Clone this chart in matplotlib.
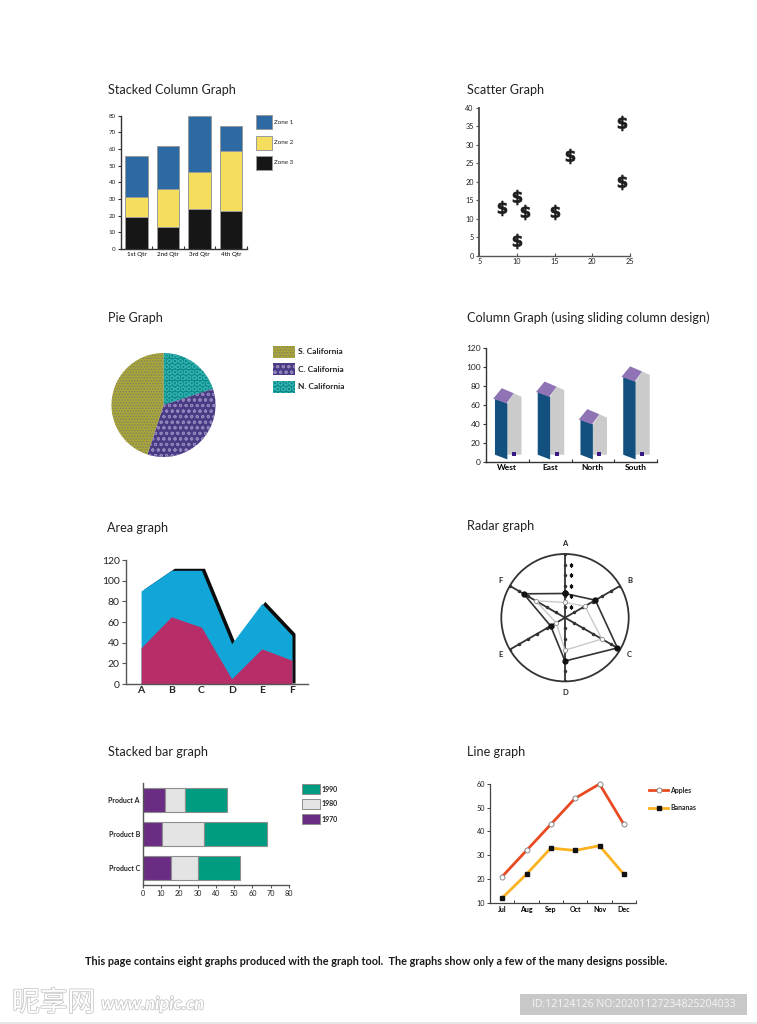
import numpy as np
import matplotlib
matplotlib.use("Agg")
import matplotlib.pyplot as plt
import matplotlib.patheffects as pe
from matplotlib.patches import Polygon, Rectangle
from matplotlib.transforms import ScaledTranslation

W, H = 757, 1024
plt.rcParams['font.family'] = ['Lato', 'DejaVu Sans']
plt.rcParams['hatch.linewidth'] = 0.7

# Stacked column
col_quarters = ['1st Qtr', '2nd Qtr', '3rd Qtr', '4th Qtr']
zone3 = [19, 13, 24, 23]
zone2 = [12, 23, 22, 36]
zone1 = [25, 26, 34, 15]
col_zone_labels = ['Zone 1', 'Zone 2', 'Zone 3']

# Scatter
scatter_x = [8, 10, 11, 10, 15, 17, 24, 24]
scatter_y = [13, 16, 12, 4, 12, 27, 36, 20]

# Pie
pie_labels = ['S. California', 'C. California', 'N. California']
pie_values = [45, 35, 20]

# Sliding column
slide_regions = ['West', 'East', 'North', 'South']
slide_values = [67, 74, 45, 90]

# Area
area_cats = ['A', 'B', 'C', 'D', 'E', 'F']
area_low = [35, 65, 55, 5, 34, 23]
area_top = [90, 110, 110, 39, 78, 47]

# Radar
radar_cats = ['A', 'B', 'C', 'D', 'E', 'F']
radar_dark = [38, 55, 95, 68, 26, 75]
radar_light = [24, 36, 67, 51, 16, 53]

# Stacked bar
bar_products = ['Product A', 'Product B', 'Product C']
bar_1970 = [12, 10.7, 15.5]
bar_1980 = [11, 23, 14.5]
bar_1990 = [23, 34, 23]
bar_years = ['1990', '1980', '1970']

# Line
line_months = ['Jul', 'Aug', 'Sep', 'Oct', 'Nov', 'Dec']
apples = [21, 32, 43, 54, 60, 43]
bananas = [12, 22, 33, 32, 34, 22]

titles = [
    (108, 90, 'Stacked Column Graph'), (467, 90, 'Scatter Graph'),
    (108, 317.5, 'Pie Graph'), (467, 317.5, 'Column Graph (using sliding column design)'),
    (107, 527.5, 'Area graph'), (467, 525.5, 'Radar graph'),
    (108, 751.5, 'Stacked bar graph'), (467, 751.5, 'Line graph'),
]
caption = 'This page contains eight graphs produced with the graph tool.  The graphs show only a few of the many designs possible.'

fig = plt.figure(figsize=(W / 100, H / 100), dpi=100, facecolor='white')


# axes from pixel box, measured from the top left of the page
def ax_px(left, top, right, bottom, **kw):
    ax = fig.add_axes([left / W, 1 - bottom / H, (right - left) / W, (bottom - top) / H], **kw)
    ax.patch.set_alpha(0)
    return ax


def page_text(x, y, s, **kw):
    kw.setdefault('va', 'center')
    kw.setdefault('color', '#222222')
    return fig.text(x / W, 1 - y / H, s, **kw)


def page_rect(left, top, right, bottom, **kw):
    fig.add_artist(Rectangle((left / W, 1 - bottom / H), (right - left) / W, (bottom - top) / H,
                             transform=fig.transFigure, **kw))


def style_axes(ax, lw=1.0, size=3, font=5, color='#333333'):
    ax.spines['top'].set_visible(False)
    ax.spines['right'].set_visible(False)
    ax.spines['left'].set_linewidth(lw)
    ax.spines['bottom'].set_linewidth(lw)
    ax.spines['left'].set_color(color)
    ax.spines['bottom'].set_color(color)
    ax.tick_params(length=size, width=lw * 0.8, labelsize=font, pad=1.5, color=color, labelcolor='#222222')
    ax.tick_params(axis='x', direction='in')


for x, y, s in titles:
    page_text(x, y, s, fontsize=9.1, color='#222222')

# Stacked column graph
ax = ax_px(120.7, 115.7, 246.7, 249)
pos = np.arange(4) + 0.5
edge = dict(edgecolor='#9a9a9a', linewidth=0.7, width=0.72)
ax.bar(pos, zone3, color='#161616', **edge)
ax.bar(pos, zone2, bottom=zone3, color='#f5dd5d', **edge)
ax.bar(pos, zone1, bottom=np.add(zone3, zone2), color='#2d6aa3', **edge)
ax.set_xlim(0, 4)
ax.set_ylim(0, 80)
ax.set_yticks(range(0, 81, 10))
ax.set_xticks(range(5))
ax.set_xticklabels([])
ax.set_xticks(pos, minor=True)
ax.set_xticklabels(col_quarters, minor=True, fontsize=4.5)
style_axes(ax, font=4.5, size=2)
ax.tick_params(axis='x', which='minor', length=0, pad=2.5)
for top, col, lab in zip([115, 136, 156], ['#2d6aa3', '#f5dd5d', '#161616'], col_zone_labels):
    page_rect(256, top, 272, top + 13.5, facecolor=col, edgecolor='#9a9a9a', linewidth=0.7)
    page_text(273.5, top + 7, lab, fontsize=4.5)

# Scatter graph
ax = ax_px(479.3, 107.7, 630, 256)
ax.scatter(scatter_x, scatter_y, marker=r'$\mathbf{\$}$', s=115, color='#1c1c1c', linewidths=0.5, clip_on=False)
ax.set_xlim(5, 25)
ax.set_ylim(0, 40)
ax.set_xticks(range(5, 26, 5))
ax.set_yticks(range(0, 41, 5))
style_axes(ax, font=5.2, size=2.5, color='#555555')
ax.spines['left'].set_linewidth(1.4)

# Pie graph, clockwise from the top: N, C, S
ax = ax_px(111.5, 353, 215.5, 457)
wedges, _ = ax.pie(pie_values[::-1], startangle=90, counterclock=False, radius=1.0,
                   wedgeprops=dict(linewidth=0))
ax.set_xlim(-1, 1)
ax.set_ylim(-1, 1)
pie_face = ['#aaa63a', '#4a3b85', '#0d8a80']
pie_hatch_col = ['#7f8062', '#9385bb', '#2fb0b4']
pie_hatch = ['......', 'ooo', 'OOO']
for w, f, c, h in zip(wedges[::-1], pie_face, pie_hatch_col, pie_hatch):
    w.set_facecolor(f)
    w.set_edgecolor(c)
    w.set_hatch(h)
for top, f, c, h, lab in zip([345.5, 363, 380.5], pie_face, pie_hatch_col, pie_hatch, pie_labels):
    page_rect(273, top, 295, top + 12, facecolor=f, edgecolor=c, hatch=h, linewidth=0)
    page_text(298, top + 6, lab, fontsize=6, fontweight='bold')

# Column graph with sliding columns
ax = ax_px(486, 348.3, 657, 462.3)
ax.set_xlim(0, 4)
ax.set_ylim(0, 120)
for i, v in enumerate(slide_values):
    ax.add_patch(Polygon([(i + .5, 8), (i + .83, 8), (i + .83, v + 2), (i + .65, v + 5.6), (i + .5, v - 5)],
                         facecolor='#cbcbcb', edgecolor='none'))
    ax.add_patch(Polygon([(i + .21, 8), (i + .5, 3), (i + .5, v - 5), (i + .21, v)],
                         facecolor='#11507f', edgecolor='none'))
    ax.add_patch(Polygon([(i + .17, v), (i + .48, v - 5), (i + .65, v + 5.6), (i + .37, v + 11)],
                         facecolor='#8f73b5', edgecolor='none'))
ax.scatter(np.arange(4) + .65, [9] * 4, s=5, marker='s', color='#3b1a86', linewidths=0)
ax.set_xticks(range(5))
ax.set_xticklabels([])
ax.set_xticks(np.arange(4) + .5, minor=True)
ax.set_xticklabels(slide_regions, minor=True, fontsize=6, fontweight='bold')
ax.set_yticks(range(0, 121, 20))
style_axes(ax, lw=1.0, font=6, size=2.5)
ax.tick_params(axis='x', which='minor', length=0, pad=1.5)

# Area graph
ax = ax_px(126, 560, 308, 684)
xs = np.arange(6)
ax.fill_between(xs + 0.1, np.add(area_top, 2), 1, color='#0c0c0c', linewidth=0)
ax.fill_between(xs, area_top, 0, color='#12a5d8', linewidth=0)
ax.fill_between(xs, area_low, 0, color='#b72d67', linewidth=0)
ax.set_xlim(-0.5, 5.53)
ax.set_ylim(0, 120)
ax.set_xticks(xs)
ax.set_xticklabels(area_cats, fontsize=7.5, fontweight='bold')
ax.set_yticks(range(0, 121, 20))
style_axes(ax, lw=1.0, font=7.5, size=3, color='#555555')
ax.tick_params(axis='x', length=0, pad=1.5)

# Radar graph
ax = ax_px(501.3, 554, 628.7, 681.4, polar=True)
ax.patch.set_alpha(0)
ax.set_theta_zero_location('N')
ax.set_theta_direction(-1)
angles = np.deg2rad(np.arange(6) * 60)
closed = np.append(angles, angles[0])
ax.set_ylim(0, 100)
ax.set_xticks(angles)
ax.set_xticklabels([])
ax.set_yticks([])
ax.grid(False)
ax.spines['polar'].set_linewidth(1.3)
ax.spines['polar'].set_color('#333333')
for a, lab in zip(angles, radar_cats):
    ax.text(a, 117, lab, fontsize=5.5, fontweight='bold', ha='center', va='center', color='#222222')
steps = np.arange(1, 7) * 100 / 6
for a in angles:
    ax.plot([a, a], [0, 100], color='#333333', lw=1.3, zorder=2)
    ax.plot([a] * 6, steps, ls='none', marker='o', ms=1.5, color='#333333', zorder=2)
ax.plot(closed, np.append(radar_light, radar_light[0]), color='#c9c9c9', lw=1.0, marker='o', ms=3,
        mfc='white', mec='#999999', mew=0.7, zorder=3)
ax.plot(closed, np.append(radar_dark, radar_dark[0]), color='#333333', lw=1.2, marker='o', ms=3.5,
        mfc='#111111', mec='#111111', zorder=4)
offset = ax.transData + ScaledTranslation(6 / 100, 0, fig.dpi_scale_trans)
ax.plot([0] * 5, steps[:5], ls='none', marker='s', ms=1.5, color='#111111', transform=offset, zorder=4)

# Stacked bar graph
ax = ax_px(142.7, 783, 289, 885)
ypos = np.arange(3)
edge = dict(edgecolor='#8e8e8e', linewidth=0.8, height=0.72)
ax.barh(ypos, bar_1970, color='#6b2d83', **edge)
ax.barh(ypos, bar_1980, left=bar_1970, color='#e4e4e4', **edge)
ax.barh(ypos, bar_1990, left=np.add(bar_1970, bar_1980), color='#009c82', **edge)
ax.set_xlim(0, 80)
ax.set_ylim(2.5, -0.5)
ax.set_xticks(range(0, 81, 10))
ax.set_yticks(ypos)
ax.set_yticklabels(bar_products, fontsize=5, fontweight='bold')
style_axes(ax, lw=1.0, font=5.2, size=2, color='#555555')
ax.set_yticklabels(bar_products, fontsize=5, fontweight='bold')
ax.tick_params(axis='y', length=0, pad=2)
ax.tick_params(axis='x', direction='out')
for top, col, lab in zip([784, 799, 814], ['#009c82', '#e4e4e4', '#6b2d83'], bar_years):
    page_rect(301.7, top, 320, top + 10.3, facecolor=col, edgecolor='#8e8e8e', linewidth=0.7)
    page_text(322, top + 5, lab, fontsize=5, fontweight='bold')

# Line graph
ax = ax_px(490, 784, 636, 902.7)
xs = np.arange(6) + 0.5
ax.plot(xs, bananas, color='#fbb221', lw=2, marker='s', ms=3.3, mfc='#111111', mec='#111111', clip_on=False)
ax.plot(xs, apples, color='#ea4a22', lw=2, marker='o', ms=3.6, mfc='white', mec='#888888', mew=0.7, clip_on=False)
ax.set_xlim(0, 6)
ax.set_ylim(10, 60)
ax.set_yticks(range(10, 61, 10))
ax.set_xticks(range(7))
ax.set_xticklabels([])
ax.set_xticks(xs, minor=True)
ax.set_xticklabels(line_months, minor=True, fontsize=5, fontweight='bold')
style_axes(ax, lw=0.9, font=5.2, size=2, color='#444444')
ax.tick_params(axis='x', which='minor', length=0, pad=2.5)
fig.add_artist(plt.Line2D([649 / W, 668 / W], [1 - 790 / H] * 2, color='#ea4a22', lw=2,
                          transform=fig.transFigure))
fig.add_artist(plt.Line2D([658.5 / W], [1 - 790 / H], ls='none', marker='o', ms=3.6, mfc='white',
                          mec='#888888', mew=0.7, transform=fig.transFigure))
fig.add_artist(plt.Line2D([649 / W, 668 / W], [1 - 808 / H] * 2, color='#fbb221', lw=2,
                          transform=fig.transFigure))
fig.add_artist(plt.Line2D([658.5 / W], [1 - 808 / H], ls='none', marker='s', ms=3.3, color='#111111',
                          transform=fig.transFigure))
page_text(670, 790, 'Apples', fontsize=5, fontweight='bold')
page_text(670, 808, 'Bananas', fontsize=5, fontweight='bold')

# Caption and page furniture
page_text(85, 961.5, caption, fontsize=7.85, fontweight='bold', color='#1a1a1a')
page_rect(0, 1022, W, H, facecolor='#e6e6e6', edgecolor='none')
page_rect(520, 994, 747, 1015, facecolor='#c8c8c8', edgecolor='none')
page_text(633.5, 1004.5, 'ID:12124126 NO:20201127234825204033', ha='center', fontsize=7.6, color='#f4f4f4',
          family=['Open Sans', 'DejaVu Sans'])
outline = [pe.withStroke(linewidth=1.1, foreground='#c4c4c4')]
page_text(12, 1003, '昵享网', fontsize=20, color='white', path_effects=outline,
          family=['Noto Sans CJK SC', 'DejaVu Sans'])
page_text(101, 1004, 'www.nipic.cn', fontsize=13, color='white', path_effects=outline, style='italic',
          fontweight='bold')

fig.savefig('out.png', dpi=100, facecolor='white')
